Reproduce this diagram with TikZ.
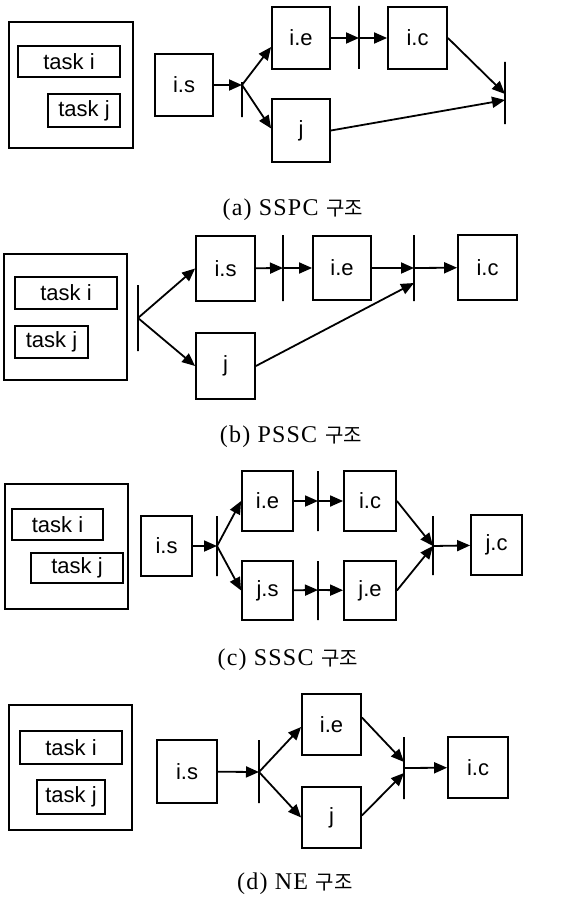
\documentclass[tikz,border=0pt]{standalone}
\usepackage{fontspec}
\setmainfont{Liberation Serif}
\setsansfont{Liberation Sans}
\newfontfamily\krfont{Noto Sans CJK KR}
\usetikzlibrary{arrows.meta,positioning}

\tikzstyle{frame} = [rectangle, draw=black]
\tikzstyle{task} = [rectangle, draw=black, inner sep=0pt, font=\sffamily\fontsize{22}{22}\selectfont]
\tikzstyle{blk} = [rectangle, draw=black, minimum width=58pt, minimum height=62pt, inner sep=0pt, font=\sffamily\fontsize{22}{22}\selectfont]
\tikzstyle{bar} = [rectangle, draw=black, minimum width=0pt, inner sep=0pt]
\tikzstyle{capt} = [font=\fontsize{24}{24}\selectfont\addfontfeature{LetterSpace=5}]
\newcommand{\kr}[1]{\hspace{8pt}{\krfont\fontsize{20}{20}\selectfont #1}}

\begin{document}
\begin{tikzpicture}[x=1pt,y=-1pt,line width=1.8pt,>={Triangle[length=13pt,width=11pt]}]
\useasboundingbox (0,0) rectangle (576,899);

% (a) SSPC
\node[frame, minimum width=124pt, minimum height=126pt] (a-frame) at (71,85) {};
\node[task, minimum width=102pt, minimum height=31pt] (a-ti) at (69,61.5) {task i};
\node[task, minimum width=72pt, minimum height=33pt] (a-tj) at (84,110.5) {task j};

\node[blk] (a-is) at (184,85) {i.s};
\node[blk] (a-ie) at (301,38) {i.e};
\node[blk, minimum width=59pt] (a-ic) at (417.5,38) {i.c};
\node[blk, minimum height=63pt] (a-j) at (301,130.5) {j};

\node[bar, minimum height=35pt] (a-b1) at (242,99.5) {};
\node[bar, minimum height=63pt] (a-b2) at (359,37.5) {};
\node[bar, minimum height=62pt] (a-b3) at (505,93) {};
\coordinate (a-j1) at (242,85);
\coordinate (a-j2) at (359,38);
\coordinate (a-in1) at (505,94);
\coordinate (a-in2) at (505,100);

\path[->]
  (a-is) edge (a-j1)
  (a-j1) edge ([yshift=-9pt]a-ie.west)
  (a-j1) edge ([yshift=2pt]a-j.west)
  (a-ie) edge (a-j2)
  (a-j2) edge (a-ic)
  (a-ic.east) edge (a-in1)
  (a-j.east) edge (a-in2)
  ;

\node[capt] (a-cap) at (293,210) {(a) SSPC\kr{구조}};

% (b) PSSC
\node[frame, minimum width=123pt, minimum height=126pt] (b-frame) at (65.5,317) {};
\node[task, minimum width=102pt, minimum height=32pt] (b-ti) at (66,293) {task i};
\node[task, minimum width=73pt, minimum height=32pt] (b-tj) at (51.5,342) {task j};

\node[blk, minimum width=59pt, minimum height=65pt] (b-is) at (225.5,268.5) {i.s};
\node[blk, minimum width=59pt, minimum height=66pt] (b-j) at (225.5,366) {j};
\node[blk, minimum height=64pt] (b-ie) at (342,268) {i.e};
\node[blk, minimum width=59pt, minimum height=65pt] (b-ic) at (487.5,267.5) {i.c};

\node[bar, minimum height=66pt] (b-b1) at (138,318) {};
\node[bar, minimum height=66pt] (b-b2) at (283,268) {};
\node[bar, minimum height=66pt] (b-b3) at (414,268) {};
\coordinate (b-j1) at (138,318);
\coordinate (b-j2) at (283,268);
\coordinate (b-j3) at (414,268);
\coordinate (b-in) at (414,283);

\path[->]
  (b-j1) edge (b-is.west)
  (b-j1) edge (b-j.west)
  (b-is) edge (b-j2)
  (b-j2) edge (b-ie)
  (b-ie) edge (b-j3)
  (b-j3) edge (b-ic)
  (b-j.east) edge (b-in)
  ;

\node[capt] (b-cap) at (291,437) {(b) PSSC\kr{구조}};

% (c) SSSC
\node[frame, minimum width=123pt, minimum height=125pt] (c-frame) at (66.5,546.5) {};
\node[task, minimum width=91pt, minimum height=31pt] (c-ti) at (57.5,524.5) {task i};
\node[task, minimum width=92pt, minimum height=30pt] (c-tj) at (77,568) {task j};

\node[blk, minimum width=51pt, minimum height=60pt] (c-is) at (166.5,546) {i.s};
\node[blk, minimum width=51pt, minimum height=60pt] (c-ie) at (267.5,501) {i.e};
\node[blk, minimum width=52pt, minimum height=60pt] (c-ic) at (370,501) {i.c};
\node[blk, minimum width=51pt, minimum height=59pt] (c-js) at (267.5,590.5) {j.s};
\node[blk, minimum width=52pt, minimum height=59pt] (c-je) at (370,590.5) {j.e};
\node[blk, minimum width=51pt, minimum height=60pt] (c-jc) at (496.5,545) {j.c};

\node[bar, minimum height=60pt] (c-b1) at (217,546) {};
\node[bar, minimum height=60pt] (c-b2) at (318,501) {};
\node[bar, minimum height=59pt] (c-b3) at (318,590.5) {};
\node[bar, minimum height=59pt] (c-b4) at (433,545.5) {};
\coordinate (c-j1) at (217,546);
\coordinate (c-j2) at (318,501);
\coordinate (c-j3) at (318,590);
\coordinate (c-j4) at (433,546);

\path[->]
  (c-is) edge (c-j1)
  (c-j1) edge (c-ie.west)
  (c-j1) edge (c-js.west)
  (c-ie) edge (c-j2)
  (c-j2) edge (c-ic)
  (c-js) edge (c-j3)
  (c-j3) edge (c-je)
  (c-ic.east) edge (c-j4)
  (c-je.east) edge (c-j4)
  (c-j4) edge (c-jc)
  ;

\node[capt] (c-cap) at (288,660) {(c) SSSC\kr{구조}};

% (d) NE
\node[frame, minimum width=123pt, minimum height=125pt] (d-frame) at (70.5,767.5) {};
\node[task, minimum width=102pt, minimum height=33pt] (d-ti) at (71,747.5) {task i};
\node[task, minimum width=68pt, minimum height=34pt] (d-tj) at (71,797) {task j};

\node[blk, minimum width=60pt, minimum height=63pt] (d-is) at (187,771.5) {i.s};
\node[blk, minimum width=59pt, minimum height=61pt] (d-ie) at (331.5,724.5) {i.e};
\node[blk, minimum width=59pt, minimum height=61pt] (d-j) at (331.5,817.5) {j};
\node[blk, minimum width=60pt, minimum height=61pt] (d-ic) at (478,767.5) {i.c};

\node[bar, minimum height=63pt] (d-b1) at (259,771.5) {};
\node[bar, minimum height=62pt] (d-b2) at (404,768) {};
\coordinate (d-j1) at (259,772);
\coordinate (d-j2) at (404,768);
\coordinate (d-in1) at (404,762);
\coordinate (d-in2) at (404,773);

\path[->]
  (d-is) edge (d-j1)
  (d-j1) edge ([yshift=-2.5pt]d-ie.west)
  (d-j1) edge (d-j.west)
  ([yshift=7pt]d-ie.east) edge (d-in1)
  ([yshift=2pt]d-j.east) edge (d-in2)
  (d-j2) edge (d-ic)
  ;

\node[capt] (d-cap) at (295,884) {(d) NE\kr{구조}};

\end{tikzpicture}
\end{document}
